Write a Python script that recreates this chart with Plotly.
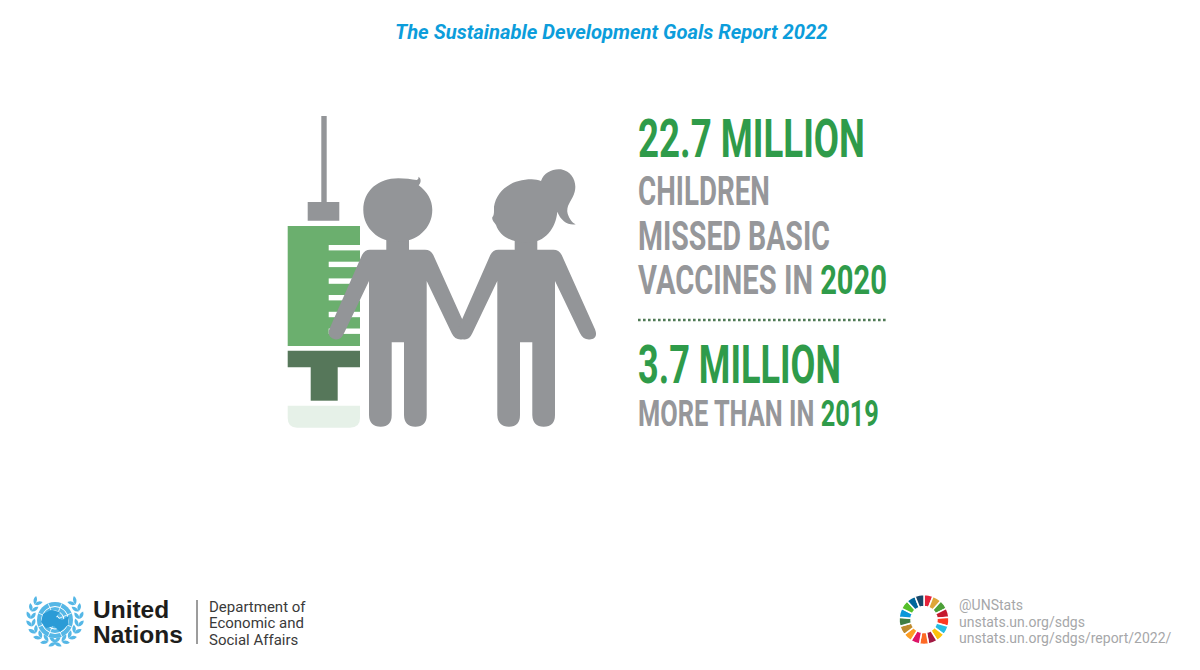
import json
import math

import plotly.graph_objects as go

# text from the picture
report_title = "The Sustainable Development Goals Report 2022"
big_lines = ["22.7 MILLION", "3.7 MILLION"]
grey_lines = ["CHILDREN", "MISSED BASIC", "VACCINES IN ", "MORE THAN IN "]
green_years = ["", "", "2020", "2019"]
un_name = ["United", "Nations"]
un_dept = ["Department of", "Economic and", "Social Affairs"]
contact_lines = ["@UNStats", "unstats.un.org/sdgs", "unstats.un.org/sdgs/report/2022/"]

# 17 goals, one equal slice each
sdg_slices = [1] * 17
sdg_colors = ["#E5243B", "#DDA63A", "#4C9F38", "#C5192D", "#FF3A21", "#26BDE2", "#FCC30B", "#A21942", "#FD6925",
              "#DD1367", "#FD9D24", "#BF8B2E", "#3F7E44", "#0A97D9", "#56C02B", "#00689D", "#19486A"]

GREEN = "#2F9B4A"
GREY = "#96979A"
ICON = "#939598"
UN_BLUE = "#55B7E6"
HEADLINE = "Roboto"

# none of the installed fonts is condensed, so the headline lines get squeezed to these widths in the page
line_widths = {
    big_lines[0]: 227, big_lines[1]: 203,
    "CHILDREN": 132, "MISSED BASIC": 192, "VACCINES IN 2020": 249, "MORE THAN IN 2019": 241,
}


def z(x, y):
    return f"{x / 3 + 270:.1f},{y / 3 + 100:.1f}"


def zpath(items):
    out = []
    for item in items:
        cmd = item[0]
        pts = item[1:]
        out.append(cmd + " ".join(z(pts[i], pts[i + 1]) for i in range(0, len(pts), 2)))
    return " ".join(out) + " Z"


def rect(x0, y0, x1, y1, color):
    return dict(type="rect", x0=x0, y0=y0, x1=x1, y1=y1, fillcolor=color, line_width=0, layer="below")


def blob(path, color):
    return dict(type="path", path=path, fillcolor=color, line_width=0, layer="below")


def person(dx):
    # body with both arms, legs; dx shifts it along for the second child
    return [
        ("M", 349 + dx, 410), ("L", 349 + dx, 449), ("L", 300 + dx, 449),
        ("Q", 284 + dx, 449, 276 + dx, 465), ("L", 178 + dx, 688),
        ("Q", 170 + dx, 712, 194 + dx, 718), ("Q", 212 + dx, 722, 222 + dx, 700),
        ("L", 297 + dx, 543), ("L", 297 + dx, 945),
        ("Q", 298 + dx, 980, 332 + dx, 980), ("Q", 365 + dx, 980, 365 + dx, 945),
        ("L", 365 + dx, 727), ("L", 402 + dx, 727), ("L", 402 + dx, 945),
        ("Q", 403 + dx, 980, 436 + dx, 980), ("Q", 470 + dx, 980, 470 + dx, 945),
        ("L", 470 + dx, 543), ("L", 545 + dx, 700),
        ("Q", 556 + dx, 722, 578 + dx, 718), ("Q", 600 + dx, 714, 590 + dx, 688),
        ("L", 490 + dx, 465), ("Q", 482 + dx, 449, 465 + dx, 449),
        ("L", 417 + dx, 449), ("L", 417 + dx, 410),
    ]


shapes = []

# syringe
shapes.append(rect(321.3, 116, 326.7, 204, ICON))
shapes.append(rect(307.7, 202, 339.3, 220.7, ICON))
shapes.append(rect(287.7, 226, 360, 346, "#6BAF6E"))
for tick_y in [245, 261.7, 278.4, 295, 311.8, 328.5]:
    shapes.append(rect(328.7, tick_y, 360, tick_y + 5.4, "#FFFFFF"))
shapes.append(rect(287.7, 350.7, 360, 367.3, "#56775A"))
shapes.append(rect(310.7, 367, 337.7, 400.7, "#56775A"))
shapes.append(blob("M287.7,405.7 L360,405.7 L360,418 Q360,427.7 350,427.7 L297,427.7 Q287.7,427.7 287.7,418 Z", "#E6F1E8"))

# boy and girl, drawn after the syringe so the arm sits over it
boy_head = "M280,330 C280,272 325,235 385,235 C405,235 425,238 440,240 C446,238 447,232 444,230 C452,232 456,245 446,256 C472,275 487,300 487,330 C487,385 440,426 383,426 C326,426 280,385 280,330"
girl_head = "M672,320 C680,270 725,238 785,238 C795,238 805,240 813,243 C822,216 850,205 873,208 C905,214 922,245 914,275 C908,300 890,312 892,335 C894,350 905,368 917,373 C895,377 872,362 862,335 C858,385 825,428 772,428 C725,428 690,410 678,375 C672,365 665,360 667,352 C673,345 672,335 672,320"


def head_path(text):
    # the head strings above are in crop coordinates too
    parts = []
    for token in text.split(" "):
        cmd = token[0] if token[0].isalpha() else ""
        x, y = token.lstrip("MCLQ").split(",")
        parts.append(cmd + z(float(x), float(y)))
    return " ".join(parts) + " Z"


shapes.append(blob(zpath(person(0)), ICON))
shapes.append(blob(zpath(person(385)), ICON))
shapes.append(blob(head_path(boy_head), ICON))
shapes.append(blob(head_path(girl_head), ICON))

# dotted divider
shapes.append(dict(type="line", x0=638, x1=887, y0=320, y1=320, line=dict(color="#4F7A55", width=2.6, dash="2.6px 2.4px"), layer="below"))

# UN emblem
cx, cy = 55, 620
shapes.append(dict(type="circle", x0=cx - 18, x1=cx + 18, y0=cy - 18, y1=cy + 18, fillcolor=UN_BLUE, line_width=0, layer="below"))
for r in [4.5, 9, 13.5]:
    shapes.append(dict(type="circle", x0=cx - r, x1=cx + r, y0=cy - r, y1=cy + r, line=dict(color="#FFFFFF", width=1), layer="below"))
for k in range(8):
    a = math.pi * k / 4 + math.pi / 8
    shapes.append(dict(type="line", x0=cx, y0=cy, x1=cx + 18 * math.cos(a), y1=cy + 18 * math.sin(a), line=dict(color="#FFFFFF", width=0.8), layer="below"))
# rough land masses, on top of the grid
shapes.append(blob("M43,614 L51,610 L60,612 L56,617 L62,620 L69,616 L68,625 L60,632 L54,626 L46,628 L41,622 Z", "#2B9BD6"))
# olive wreath, two rows of leaves on each side that meet under the globe
for side in [-1, 1]:
    for radius, tilt in [(26.5, 0.55), (22, -0.55)]:
        for k in range(8):
            a = math.radians(-42 + k * 18)
            lx = cx + side * radius * math.cos(a)
            ly = cy - 2 + radius * math.sin(a)
            turn = a + math.pi / 2 + tilt
            tx = side * math.cos(turn) * 4.2
            ty = math.sin(turn) * 4.2
            nx = -side * math.sin(turn) * 3.6
            ny = math.cos(turn) * 3.6
            leaf = (f"M{lx - tx:.1f},{ly - ty:.1f} Q{lx + nx:.1f},{ly + ny:.1f} {lx + tx:.1f},{ly + ty:.1f} "
                    f"Q{lx - nx:.1f},{ly - ny:.1f} {lx - tx:.1f},{ly - ty:.1f} Z")
            shapes.append(blob(leaf, UN_BLUE))
shapes.append(dict(type="line", x0=197, x1=197, y0=600, y1=644, line=dict(color="#3A3A3A", width=1), layer="below"))

annotations = []


def add_text(x, y, text, size, color, family="Roboto", anchor="left", **font_extra):
    annotations.append(dict(x=x, y=y, xref="x", yref="y", text=text, showarrow=False, xanchor=anchor, yanchor="middle",
                            align=anchor, font=dict(size=size, color=color, family=family, **font_extra)))


add_text(611.5, 32, report_title, 20.2, "#0C9DDB", anchor="center", style="italic", weight="bold")

add_text(636, 138.7, big_lines[0], 53, GREEN, HEADLINE, weight="bold")
add_text(636, 364.7, big_lines[1], 53, GREEN, HEADLINE, weight="bold")
grey_y = [190.5, 235.5, 280, 413.7]
grey_size = [41, 41, 41, 36.5]
for line, year, y, size in zip(grey_lines, green_years, grey_y, grey_size):
    text = line
    if year:
        text += f'<span style="color:{GREEN}">{year}</span>'
    add_text(636, y, text, size, GREY, HEADLINE, weight="bold")

add_text(91, 625, "<br>".join(un_name), 24.5, "#1D1D1B", "Liberation Sans", weight="bold")
for line, y in zip(un_dept, [606.5, 623, 639.5]):
    add_text(207, y, line, 15, "#3A3A3A")
for line, y in zip(contact_lines, [605, 622, 638]):
    add_text(957, y, line, 14, "#A6A7A9")

# SDG colour wheel
sdg_wheel = go.Pie(values=sdg_slices, marker=dict(colors=sdg_colors, line=dict(color="#FFFFFF", width=1.5)),
                   hole=0.52, sort=False, direction="clockwise", rotation=0, textinfo="none", hoverinfo="skip",
                   showlegend=False, domain=dict(x=[899 / 1200, 949 / 1200], y=[1 - 644.5 / 670, 1 - 594.5 / 670]))

fig = go.Figure(data=[sdg_wheel])
fig.update_layout(
    width=1200, height=670, margin=dict(l=0, r=0, t=0, b=0),
    paper_bgcolor="#FFFFFF", plot_bgcolor="#FFFFFF", showlegend=False,
    xaxis=dict(range=[0, 1200], visible=False, fixedrange=True),
    yaxis=dict(range=[670, 0], visible=False, fixedrange=True),
    shapes=shapes, annotations=annotations,
)

# drop the page margin, squeeze the headline lines sideways, tighten the two-line UN name
page_fixes = """
document.body.style.margin = '0';
var widths = %s;
document.querySelectorAll('.annotation-text').forEach(function (t) {
    if (t.textContent === 'UnitedNations') {
        t.querySelectorAll('tspan.line')[1].setAttribute('dy', '24.5px');
        return;
    }
    var target = widths[t.textContent];
    if (!target) return;
    var box = t.getBBox();
    var s = target / box.width;
    t.setAttribute('transform', 'translate(' + box.x + ',0) scale(' + s + ',1) translate(' + (-box.x) + ',0)');
});
""" % json.dumps(line_widths)
fig.write_html("out.html", post_script=page_fixes, config=dict(displayModeBar=False))
